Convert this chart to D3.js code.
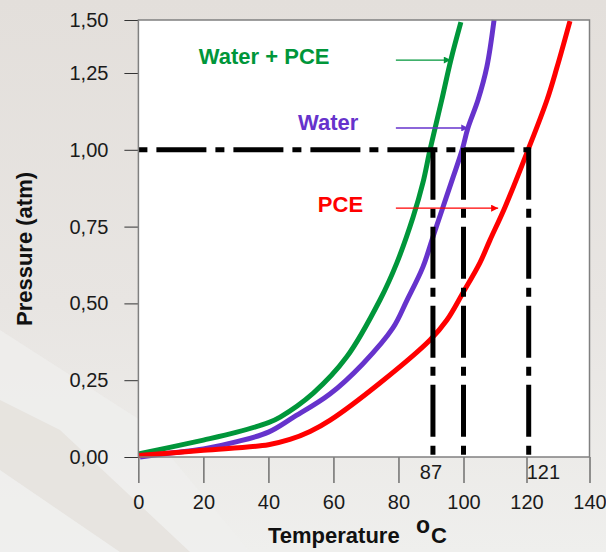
<!DOCTYPE html>
<html>
<head>
<meta charset="utf-8">
<script src="https://cdn.jsdelivr.net/npm/d3@7"></script>
<style>
  body { margin: 0; }
  text { font-family: "Liberation Sans", Arial, sans-serif; }
</style>
</head>
<body>
<script>
// Vapour pressure curves (temperature in C, pressure in atm)
const tempMix = [0, 10, 20, 30, 40, 43.6, 53.8, 64.1, 74.3, 79.5, 84.5, 87.5, 89.7, 93.3, 96.1, 99.2];
const presMix = [0.01, 0.032, 0.055, 0.08, 0.112, 0.13, 0.208, 0.326, 0.511, 0.632, 0.781, 0.892, 1.0, 1.162, 1.311, 1.49];

const tempWater = [0.5, 10, 20, 30, 40, 47.5, 58.9, 69, 78.3, 82.6, 87.5, 90.6, 93.7, 96.8, 99.6, 101.4, 104.6, 107.4, 109.7];
const presWater = [0, 0.013, 0.026, 0.049, 0.081, 0.128, 0.205, 0.303, 0.42, 0.51, 0.618, 0.716, 0.814, 0.911, 1.0, 1.071, 1.162, 1.278, 1.5];

const tempPce = [0, 20, 40, 46.6, 52.8, 59, 74.3, 89.7, 94.9, 99.8, 105.2, 108.4, 113.2, 120.5, 126.5, 129.7, 133.8];
const presPce = [0.005, 0.022, 0.04, 0.057, 0.083, 0.12, 0.241, 0.381, 0.446, 0.534, 0.632, 0.706, 0.814, 1.0, 1.162, 1.278, 1.495];

const seriesNames = ["Water + PCE", "Water", "PCE"];
const seriesColors = ["#00963a", "#6633cc", "#ff0000"];

// boiling points where each curve reaches 1 atm, and the labels written for them
const boilTemps = [90.6, 100, 120.7];
const boilLabels = ["87", "121"];
const boilLabelTemps = [90.6, 120.7];

const tTicks = [0, 20, 40, 60, 80, 100, 120, 140];
const pTicks = [0, 0.25, 0.5, 0.75, 1.0, 1.25, 1.5];

// legend arrows: pressure level and temperature where each arrow stops
const arrowPres = [1.311, 1.071, 0.81];
const arrowEnd = [96.1, 101.5, 111];
const arrowStart = 79.2;
const labelPos = [[18.6, 1.292], [49.1, 1.064], [55.2, 0.797]];

const W = 606, H = 552;

const svg = d3.select("body")
  .append("svg")
  .attr("width", W)
  .attr("height", H);

// background
const defs = svg.append("defs");
const grad = defs.append("linearGradient")
  .attr("id", "bg")
  .attr("x1", 0).attr("y1", 0).attr("x2", 0).attr("y2", 1);
grad.append("stop").attr("offset", "0%").attr("stop-color", "#e3dfdb");
grad.append("stop").attr("offset", "55%").attr("stop-color", "#e8e5e2");
grad.append("stop").attr("offset", "100%").attr("stop-color", "#efefed");

svg.append("rect").attr("width", W).attr("height", H).attr("fill", "url(#bg)");
svg.append("path")
  .attr("d", "M0,330 L140,420 L250,552 L0,552 Z")
  .attr("fill", "#f0efee").attr("opacity", 0.7);
svg.append("path")
  .attr("d", "M0,400 L60,430 L190,552 L120,552 L0,470 Z")
  .attr("fill", "#e6e2de").attr("opacity", 0.9);

// scales (the picture squeezes the top quarter of the pressure axis)
const xScale = d3.scaleLinear()
  .domain([0, 100, 140])
  .range([138.4, 463.5, 589.5]);
const yScale = d3.scaleLinear()
  .domain([0, 1.25, 1.5])
  .range([457, 73, 20]);

const x0 = xScale(0), x1 = xScale(140);
const y0 = yScale(0), y1 = yScale(1.5);

svg.append("rect")
  .attr("x", x0).attr("y", y1)
  .attr("width", x1 - x0).attr("height", y0 - y1)
  .attr("fill", "#ffffff");

const commaLocale = d3.formatLocale({ decimal: ",", thousands: ".", grouping: [3], currency: ["", ""] });
const fmt = commaLocale.format(".2f");

const yAxis = d3.axisLeft(yScale)
  .tickValues(pTicks)
  .tickFormat(fmt)
  .tickSize(14)
  .tickPadding(16);
const gy = svg.append("g")
  .attr("transform", "translate(" + x0 + ",0)")
  .call(yAxis);
gy.select(".domain").remove();
gy.selectAll("text").attr("font-size", 20).attr("fill", "#1a1a1a")
  .style("font-family", "'Liberation Sans', Arial, sans-serif");
gy.selectAll("line").attr("stroke", "#333");

const xAxis = d3.axisBottom(xScale)
  .tickValues(tTicks)
  .tickSize(26)
  .tickPadding(12);
const gx = svg.append("g")
  .attr("transform", "translate(0," + y0 + ")")
  .call(xAxis);
gx.select(".domain").remove();
gx.selectAll("text").attr("font-size", 20).attr("fill", "#1a1a1a")
  .style("font-family", "'Liberation Sans', Arial, sans-serif");
gx.selectAll("line").attr("stroke", "#333");

// curves
const line = d3.line()
  .x(d => xScale(d[0]))
  .y(d => yScale(d[1]))
  .curve(d3.curveCatmullRom.alpha(0.5));

const series = [
  d3.zip(tempMix, presMix),
  d3.zip(tempWater, presWater),
  d3.zip(tempPce, presPce)
];

svg.selectAll(".curve")
  .data(series)
  .enter()
  .append("path")
  .attr("class", "curve")
  .attr("d", line)
  .attr("fill", "none")
  .attr("stroke", (d, i) => seriesColors[i])
  .attr("stroke-width", 5);

// dash-dot guides at 1 atm
const maxBoil = d3.max(boilTemps);
svg.append("line")
  .attr("x1", x0).attr("x2", xScale(maxBoil) + 2)
  .attr("y1", yScale(1)).attr("y2", yScale(1))
  .attr("stroke", "#000").attr("stroke-width", 5)
  .attr("stroke-dasharray", "9,9,50,9");

svg.selectAll(".guide")
  .data(boilTemps)
  .enter()
  .append("line")
  .attr("class", "guide")
  .attr("x1", d => xScale(d)).attr("x2", d => xScale(d))
  .attr("y1", yScale(1) - 2).attr("y2", y0 - 2)
  .attr("stroke", "#000").attr("stroke-width", 5)
  .attr("stroke-dasharray", "52,9,9,9");

// frame
svg.append("rect")
  .attr("x", x0).attr("y", y1)
  .attr("width", x1 - x0).attr("height", y0 - y1)
  .attr("fill", "none")
  .attr("stroke", "#808080")
  .attr("stroke-width", 1.5);

// boiling point labels under the axis
svg.selectAll(".boil")
  .data(boilLabels)
  .enter()
  .append("text")
  .attr("class", "boil")
  .attr("x", (d, i) => xScale(boilLabelTemps[i]) - 2)
  .attr("y", y0 + 22)
  .attr("text-anchor", (d, i) => i == 0 ? "middle" : "start")
  .attr("font-size", 20)
  .attr("fill", "#1a1a1a")
  .text(d => d);

// legend labels with arrows
seriesColors.forEach(function(c, i) {
  defs.append("marker")
    .attr("id", "arrow" + i)
    .attr("viewBox", "0 0 10 10")
    .attr("refX", 10).attr("refY", 5)
    .attr("markerUnits", "userSpaceOnUse")
    .attr("markerWidth", 9).attr("markerHeight", 7)
    .attr("orient", "auto")
    .append("path")
    .attr("d", "M0,0 L10,5 L0,10 Z")
    .attr("fill", c);
});

svg.selectAll(".arrow")
  .data(arrowPres)
  .enter()
  .append("line")
  .attr("class", "arrow")
  .attr("x1", xScale(arrowStart))
  .attr("x2", (d, i) => xScale(arrowEnd[i]))
  .attr("y1", d => yScale(d)).attr("y2", d => yScale(d))
  .attr("stroke", (d, i) => seriesColors[i])
  .attr("stroke-width", 1.3)
  .attr("marker-end", (d, i) => "url(#arrow" + i + ")");

svg.selectAll(".legend")
  .data(seriesNames)
  .enter()
  .append("text")
  .attr("class", "legend")
  .attr("x", (d, i) => xScale(labelPos[i][0]))
  .attr("y", (d, i) => yScale(labelPos[i][1]))
  .attr("font-size", 22)
  .attr("font-weight", "bold")
  .attr("fill", (d, i) => seriesColors[i])
  .text(d => d);

// axis titles
svg.append("text")
  .attr("transform", "translate(32,249) rotate(-90)")
  .attr("text-anchor", "middle")
  .attr("font-size", 22)
  .attr("font-weight", "bold")
  .attr("fill", "#111")
  .text("Pressure (atm)");

svg.append("text")
  .attr("x", 268).attr("y", 543)
  .attr("font-size", 22)
  .attr("font-weight", "bold")
  .attr("fill", "#111")
  .text("Temperature");
svg.append("text")
  .attr("x", 416).attr("y", 533)
  .attr("font-size", 23)
  .attr("font-weight", "bold")
  .attr("fill", "#111")
  .text("o");
svg.append("text")
  .attr("x", 431).attr("y", 543)
  .attr("font-size", 22)
  .attr("font-weight", "bold")
  .attr("fill", "#111")
  .text("C");
</script>
</body>
</html>
